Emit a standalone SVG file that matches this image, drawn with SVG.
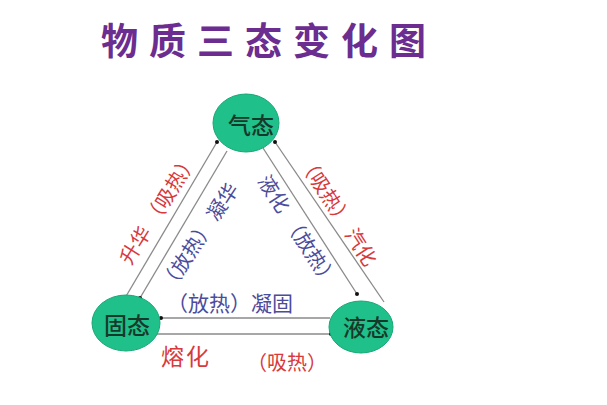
<svg xmlns="http://www.w3.org/2000/svg" width="607" height="405" viewBox="0 0 607 405">
<defs>
<marker id="dot" viewBox="0 0 6 6" refX="3" refY="3" markerWidth="6" markerHeight="6" markerUnits="userSpaceOnUse">
<circle cx="3" cy="3" r="2" fill="#111"/>
</marker>
<style>
.conn{stroke:#8a8a8a;stroke-width:1.3;fill:none;marker-end:url(#dot)}
.node ellipse{fill:#20c08a;stroke:#17a877;stroke-width:1}
.nt{font-family:"Noto Sans CJK SC","Noto Sans CJK JP",sans-serif;font-size:23px;font-weight:500;fill:#17392a;text-anchor:middle;dominant-baseline:central}
.lbl{font-family:"Noto Sans CJK SC","Noto Sans CJK JP",sans-serif;font-size:20px;text-anchor:middle;dominant-baseline:central}
.red{fill:#d8393b}
.blue{fill:#4c4c9c}
.title{font-family:"Noto Sans CJK SC","Noto Sans CJK JP",sans-serif;font-size:37px;font-weight:700;fill:#6b2d8f;letter-spacing:11px}
</style>
</defs>
<rect width="607" height="405" fill="#ffffff"/>
<text class="title" x="101" y="55">物质三态变化图</text>
<g id="connectors">
<line class="conn" x1="125" y1="298" x2="217" y2="142"/>
<line class="conn" x1="227" y1="151" x2="140" y2="298"/>
<line class="conn" x1="263" y1="148" x2="357" y2="294"/>
<line class="conn" x1="384" y1="302" x2="275" y2="142"/>
<line class="conn" x1="330" y1="318" x2="161" y2="318"/>
<line class="conn" x1="153" y1="334" x2="331" y2="334"/>
</g>
<g id="labels">
<text class="lbl red" transform="translate(157,208) rotate(-58)">升华<tspan dx="6">（吸热）</tspan></text>
<text class="lbl blue" transform="translate(198,236) rotate(-57)">（放热）<tspan dx="4">凝华</tspan></text>
<text class="lbl red" transform="translate(339,210) rotate(57)">（吸热）<tspan dx="6">汽化</tspan></text>
<text class="lbl blue" transform="translate(299,230) rotate(57)">液化<tspan dx="8">（放热）</tspan></text>
<text class="lbl blue" x="230" y="302" style="font-size:21px">（放热）凝固</text>
<text class="lbl red" x="186" y="355" style="font-size:23px;letter-spacing:2px">熔化</text>
<text class="lbl red" x="287" y="361">（吸热）</text>
</g>
<g id="gas" class="node">
<ellipse cx="246" cy="123" rx="33" ry="29"/>
<text class="nt" x="251" y="124">气态</text>
</g>
<g id="solid" class="node">
<ellipse cx="126" cy="323" rx="34" ry="28"/>
<text class="nt" x="127" y="324">固态</text>
</g>
<g id="liquid" class="node">
<ellipse cx="361" cy="327" rx="32" ry="26"/>
<text class="nt" x="366" y="326">液态</text>
</g>
</svg>
